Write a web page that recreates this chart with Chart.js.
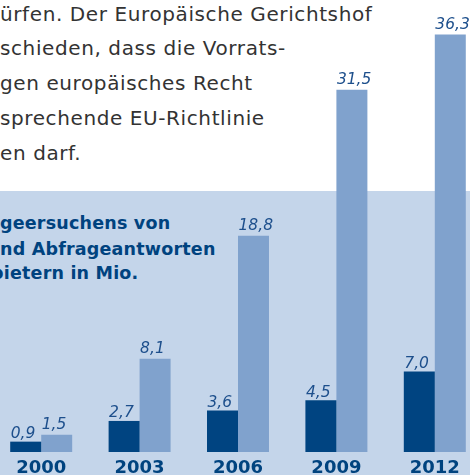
<!DOCTYPE html>
<html>
<head>
<meta charset="utf-8">
<script src="https://cdn.jsdelivr.net/npm/chart.js@4.4.1/dist/chart.umd.min.js"></script>
<style>
  html, body { margin: 0; padding: 0; width: 470px; height: 475px; overflow: hidden; background: #ffffff; position: relative; }
  #box { position: absolute; left: 0; top: 191px; width: 470px; height: 284px; background: #c4d5ea; }
  .body { position: absolute; left: 0; font-family: "DejaVu Sans", Verdana, sans-serif; font-size: 20px; letter-spacing: 0.6px; line-height: 34.75px; color: #333333; white-space: nowrap; }
  .ttl { position: absolute; font-family: "DejaVu Sans", Verdana, sans-serif; font-weight: bold; font-size: 17.5px; letter-spacing: 0.2px; line-height: 26px; color: #00437f; white-space: nowrap; }
  #wrap { position: absolute; left: -8px; top: 0; width: 492px; height: 484px; }
</style>
</head>
<body>
<div id="box"></div>
<div class="body" style="top:-3.5px">ürfen. Der Europäische Gerichtshof</div>
<div class="body" style="top:31.25px">schieden, dass die Vorrats-</div>
<div class="body" style="top:66px">gen europäisches Recht</div>
<div class="body" style="top:100.75px">sprechende EU-Richtlinie</div>
<div class="body" style="top:136px">en darf.</div>
<div class="ttl" style="top:210px;left:0">geersuchens von</div>
<div class="ttl" style="top:236px;left:0">nd Abfrageantworten</div>
<div class="ttl" style="top:260px;left:-9px">bietern in Mio.</div>
<div id="wrap"><canvas id="c"></canvas></div>
<script>
const years = ["2000", "2003", "2006", "2009", "2012"];
const requests = [0.9, 2.7, 3.6, 4.5, 7.0];
const answers = [1.5, 8.1, 18.8, 31.5, 36.3];

const valueLabels = {
  id: 'valueLabels',
  afterDatasetsDraw(chart) {
    const ctx = chart.ctx;
    ctx.save();
    ctx.font = 'italic 15.5px "DejaVu Sans", Verdana, sans-serif';
    ctx.fillStyle = '#1d4f8c';
    ctx.textAlign = 'left';
    ctx.textBaseline = 'alphabetic';
    chart.data.datasets.forEach((ds, di) => {
      const meta = chart.getDatasetMeta(di);
      const gap = di === 0 ? 3.5 : 6;
      meta.data.forEach((bar, i) => {
        const txt = ds.data[i].toFixed(1).replace('.', ',');
        ctx.fillText(txt, bar.x - bar.width / 2 + 0.5, bar.y - gap);
      });
    });
    ctx.restore();
  }
};

new Chart(document.getElementById('c'), {
  type: 'bar',
  data: {
    labels: years,
    datasets: [
      { data: requests, backgroundColor: '#004481', borderWidth: 0 },
      { data: answers, backgroundColor: '#80a2cd', borderWidth: 0 }
    ]
  },
  options: {
    responsive: true,
    maintainAspectRatio: false,
    animation: false,
    layout: { padding: 0 },
    plugins: { legend: { display: false }, tooltip: { enabled: false } },
    datasets: { bar: { categoryPercentage: 0.63, barPercentage: 1.0 } },
    scales: {
      x: {
        grid: { display: false, drawTicks: false },
        border: { display: false },
        ticks: {
          color: '#00437f',
          font: { family: '"DejaVu Sans", Verdana, sans-serif', size: 18, weight: 'bold', lineHeight: 1.0 },
          padding: 7
        }
      },
      y: {
        display: false,
        min: 0,
        max: 39.3
      }
    }
  },
  plugins: [valueLabels]
});
</script>
</body>
</html>
